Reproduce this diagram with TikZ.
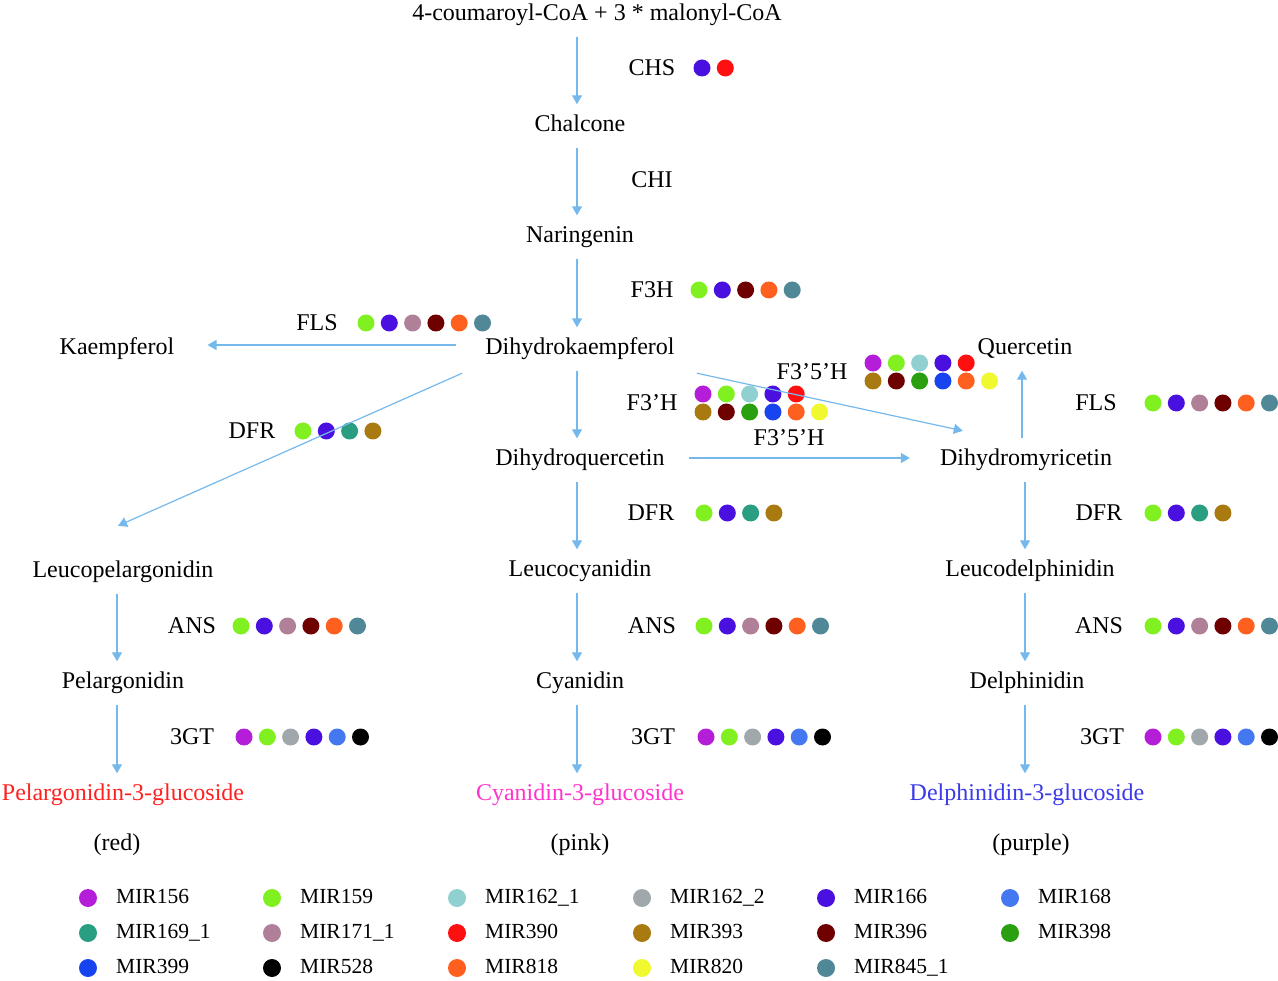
\documentclass[tikz,border=0pt]{standalone}
\usepackage{fontspec}
\setmainfont{Liberation Serif}
\usetikzlibrary{arrows.meta}
\definecolor{m156}{HTML}{B41ED8}
\definecolor{m159}{HTML}{80F020}
\definecolor{m162a}{HTML}{90D0D0}
\definecolor{m162b}{HTML}{A0A8AC}
\definecolor{m166}{HTML}{4A10E0}
\definecolor{m168}{HTML}{4478F0}
\definecolor{m169}{HTML}{2A9E80}
\definecolor{m171}{HTML}{B08098}
\definecolor{m390}{HTML}{FF1010}
\definecolor{m393}{HTML}{A87A10}
\definecolor{m396}{HTML}{6E0000}
\definecolor{m398}{HTML}{2AA010}
\definecolor{m399}{HTML}{1844F0}
\definecolor{m528}{HTML}{000000}
\definecolor{m818}{HTML}{FF6020}
\definecolor{m820}{HTML}{F0F830}
\definecolor{m845}{HTML}{508898}
\definecolor{arrowblue}{HTML}{74B8EC}
\definecolor{redtxt}{HTML}{FF2020}
\definecolor{pinktxt}{HTML}{FF33CC}
\definecolor{bluetxt}{HTML}{3A3AE8}
\tikzset{
 txt/.style={font=\fontsize{24}{28}\selectfont, text height=16pt, text depth=5pt, inner xsep=4pt, inner ysep=11pt},
 enz/.style={font=\fontsize{24}{28}\selectfont, inner sep=0pt},
 arr/.style={draw=arrowblue, line width=1.2pt, -{Triangle[length=9pt,width=10pt]}},
 leg/.style={font=\fontsize{21.5}{26}\selectfont, anchor=west, inner sep=0pt, text height=15pt, text depth=4pt},
}
\newcommand\mirrow[3]{\foreach \c [count=\i from 0] in {#3} {\fill[\c] (#1+\i*23.3,#2) circle (8.5);}}
\newcommand\legitem[5]{\fill[#3] (#1,#2) circle (9);\node[leg] (#5) at (#1+28,#2) {#4};}
\begin{document}
\begin{tikzpicture}[x=1pt,y=-1pt]
\useasboundingbox (0,0) rectangle (1278,981);
\coordinate (cL) at (117,0);
\coordinate (cM) at (577,0);
\coordinate (cR) at (1025,0);
\coordinate (cQ) at (1022,0);
% compounds
\node[txt] (src) at (597,15) {4-coumaroyl-CoA + 3 * malonyl-CoA};
\node[txt] (chal) at (580,126) {Chalcone};
\node[txt] (nar) at (580,237) {Naringenin};
\node[txt] (dk) at (580,349) {Dihydrokaempferol};
\node[txt] (kae) at (117,349) {Kaempferol};
\node[txt] (que) at (1025,349) {Quercetin};
\node[txt] (dq) at (580,460) {Dihydroquercetin};
\node[txt] (dm) at (1026,460) {Dihydromyricetin};
\node[txt] (lp) at (123,572) {Leucopelargonidin};
\node[txt] (lc) at (580,571) {Leucocyanidin};
\node[txt] (ld) at (1030,571) {Leucodelphinidin};
\node[txt] (pel) at (123,683) {Pelargonidin};
\node[txt] (cy) at (580,683) {Cyanidin};
\node[txt] (del) at (1027,683) {Delphinidin};
\node[txt,text=redtxt] (p3g) at (123,795) {Pelargonidin-3-glucoside};
\node[txt,text=pinktxt] (c3g) at (580,795) {Cyanidin-3-glucoside};
\node[txt,text=bluetxt] (d3g) at (1027,795) {Delphinidin-3-glucoside};
\node[txt] (red) at (117,845) {(red)};
\node[txt] (pink) at (580,845) {(pink)};
\node[txt] (purple) at (1031,845) {(purple)};
% enzymes
\node[enz] (chs) at (652,68) {CHS};
\node[enz] (chi) at (652,180) {CHI};
\node[enz] (f3h) at (652,290) {F3H};
\node[enz] (flsL) at (317,323) {FLS};
\node[enz] (dfrL) at (252,431) {DFR};
\node[enz] (f3ph) at (652,403) {F3’H};
\node[enz] (f35a) at (812,372) {F3’5’H};
\node[enz] (f35b) at (789,438) {F3’5’H};
\node[enz] (flsR) at (1096,403) {FLS};
\node[enz] (dfrM) at (651,513) {DFR};
\node[enz] (dfrR) at (1099,513) {DFR};
\node[enz] (ansL) at (192,626) {ANS};
\node[enz] (ansM) at (652,626) {ANS};
\node[enz] (ansR) at (1099,626) {ANS};
\node[enz] (gtL) at (192,737) {3GT};
\node[enz] (gtM) at (653,737) {3GT};
\node[enz] (gtR) at (1102,737) {3GT};
% dots
\mirrow{702}{68}{m166,m390}
\mirrow{699}{290}{m159,m166,m396,m818,m845}
\mirrow{366}{323}{m159,m166,m171,m396,m818,m845}
\mirrow{303}{431}{m159,m166,m169,m393}
\mirrow{703}{394}{m156,m159,m162a,m166,m390}
\mirrow{703}{412}{m393,m396,m398,m399,m818,m820}
\mirrow{873}{363}{m156,m159,m162a,m166,m390}
\mirrow{873}{381}{m393,m396,m398,m399,m818,m820}
\mirrow{1153}{403}{m159,m166,m171,m396,m818,m845}
\mirrow{704}{513}{m159,m166,m169,m393}
\mirrow{1153}{513}{m159,m166,m169,m393}
\mirrow{241}{626}{m159,m166,m171,m396,m818,m845}
\mirrow{704}{626}{m159,m166,m171,m396,m818,m845}
\mirrow{1153}{626}{m159,m166,m171,m396,m818,m845}
\mirrow{244}{737}{m156,m159,m162b,m166,m168,m528}
\mirrow{706}{737}{m156,m159,m162b,m166,m168,m528}
\mirrow{1153}{737}{m156,m159,m162b,m166,m168,m528}
% arrows
\draw[arr] (src.south -| cM) -- (chal.north -| cM);
\draw[arr] (chal.south -| cM) -- (nar.north -| cM);
\draw[arr] (nar.south -| cM) -- (dk.north -| cM);
\draw[arr] (dk.south -| cM) -- (dq.north -| cM);
\draw[arr] (dq.south -| cM) -- (lc.north -| cM);
\draw[arr] (lc.south -| cM) -- (cy.north -| cM);
\draw[arr] (cy.south -| cM) -- (c3g.north -| cM);
\draw[arr] (lp.south -| cL) -- (pel.north -| cL);
\draw[arr] (pel.south -| cL) -- (p3g.north -| cL);
\draw[arr] (dm.south -| cR) -- (ld.north -| cR);
\draw[arr] (ld.south -| cR) -- (del.north -| cR);
\draw[arr] (del.south -| cR) -- (d3g.north -| cR);
\draw[arr] (dm.north -| cQ) -- (que.south -| cQ);
\draw[arr] ([xshift=-25pt,yshift=4pt]dk.west) -- ([xshift=29pt,yshift=4pt]kae.east);
\draw[arr] ([xshift=-19pt,yshift=-2.5pt]dk.south west) -- ([xshift=-5pt,yshift=24.5pt]lp.north);
\draw[arr] ([xshift=18pt,yshift=-2.5pt]dk.south east) -- ([xshift=27pt,yshift=7.5pt]dm.north west);
\draw[arr] ([xshift=20pt,yshift=2pt]dq.east) -- ([xshift=-26pt,yshift=2pt]dm.west);
% legend
\legitem{88}{898}{m156}{MIR156}{l1}
\legitem{272}{898}{m159}{MIR159}{l2}
\legitem{457}{898}{m162a}{MIR162\_1}{l3}
\legitem{642}{898}{m162b}{MIR162\_2}{l4}
\legitem{826}{898}{m166}{MIR166}{l5}
\legitem{1010}{898}{m168}{MIR168}{l6}
\legitem{88}{933}{m169}{MIR169\_1}{l7}
\legitem{272}{933}{m171}{MIR171\_1}{l8}
\legitem{457}{933}{m390}{MIR390}{l9}
\legitem{642}{933}{m393}{MIR393}{l10}
\legitem{826}{933}{m396}{MIR396}{l11}
\legitem{1010}{933}{m398}{MIR398}{l12}
\legitem{88}{968}{m399}{MIR399}{l13}
\legitem{272}{968}{m528}{MIR528}{l14}
\legitem{457}{968}{m818}{MIR818}{l15}
\legitem{642}{968}{m820}{MIR820}{l16}
\legitem{826}{968}{m845}{MIR845\_1}{l17}
\end{tikzpicture}
\end{document}
